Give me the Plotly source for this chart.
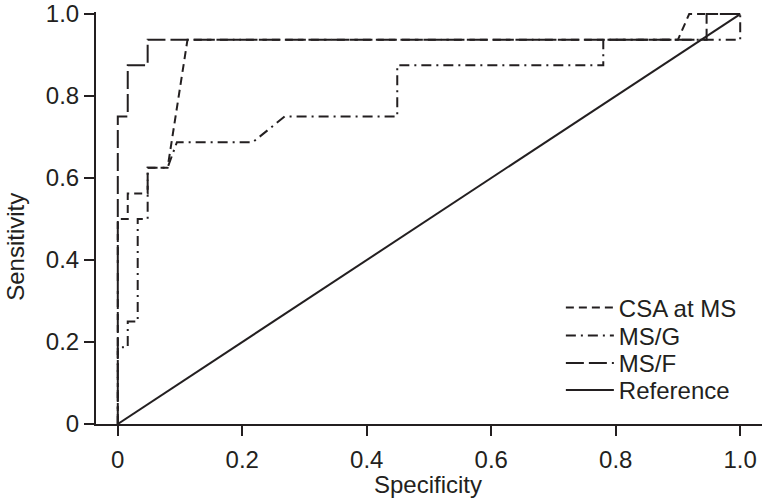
import plotly.graph_objects as go

# ROC curve data (x = "Specificity" axis as labelled, y = Sensitivity)
csa_x = [0, 0, 0.016, 0.016, 0.048, 0.048, 0.080, 0.112, 0.900, 0.918, 1.0]
csa_y = [0, 0.5, 0.5, 0.5625, 0.5625, 0.625, 0.625, 0.9375, 0.9375, 1.0, 1.0]

msg_x = [0, 0, 0.016, 0.016, 0.032, 0.032, 0.048, 0.048, 0.080, 0.095,
         0.217, 0.268, 0.449, 0.449, 0.780, 0.780, 1.0, 1.0]
msg_y = [0, 0.1875, 0.1875, 0.25, 0.25, 0.5, 0.5, 0.625, 0.625, 0.6875,
         0.6875, 0.75, 0.75, 0.875, 0.875, 0.9375, 0.9375, 1.0]

msf_x = [0, 0, 0.016, 0.016, 0.048, 0.048, 0.946, 0.946, 1.0]
msf_y = [0, 0.75, 0.75, 0.875, 0.875, 0.9375, 0.9375, 1.0, 1.0]

ref_x = [0, 1.0]
ref_y = [0, 1.0]

series_names = ["CSA at MS", "MS/G", "MS/F", "Reference"]
tick_vals = [0, 0.2, 0.4, 0.6, 0.8, 1.0]
tick_text = ["0", "0.2", "0.4", "0.6", "0.8", "1.0"]

INK = "#231f20"
FONT = "Liberation Sans, Arial, sans-serif"

fig = go.Figure()
fig.add_trace(go.Scatter(x=csa_x, y=csa_y, mode="lines", name=series_names[0],
                         legend="legend",
                         line=dict(color=INK, width=2, dash="8px,5px")))
fig.add_trace(go.Scatter(x=msg_x, y=msg_y, mode="lines", name=series_names[1],
                         legend="legend2",
                         line=dict(color=INK, width=2, dash="10px,5px,2px,5px")))
fig.add_trace(go.Scatter(x=msf_x, y=msf_y, mode="lines", name=series_names[2],
                         legend="legend3",
                         line=dict(color=INK, width=2, dash="18px,5px")))
fig.add_trace(go.Scatter(x=ref_x, y=ref_y, mode="lines", name=series_names[3],
                         legend="legend4",
                         line=dict(color=INK, width=2)))

leg_common = dict(x=0.698, xanchor="left", yanchor="middle", itemwidth=48,
                  bgcolor="rgba(0,0,0,0)", font=dict(size=24, color=INK))

fig.update_layout(
    width=765, height=499,
    margin=dict(l=96, r=3, t=12, b=75, autoexpand=False),
    paper_bgcolor="white", plot_bgcolor="white",
    font=dict(family=FONT, size=24, color=INK),
    showlegend=True,
    legend=dict(y=0.2816, **leg_common),
    legend2=dict(y=0.2136, **leg_common),
    legend3=dict(y=0.1468, **leg_common),
    legend4=dict(y=0.0813, **leg_common),
    annotations=[
        dict(text="Specificity", x=0.4985, y=-0.146, xref="paper", yref="paper",
             xanchor="center", yanchor="middle", showarrow=False,
             font=dict(size=24, color=INK)),
        dict(text="Sensitivity", x=-0.122, y=0.4296, xref="paper", yref="paper",
             xanchor="center", yanchor="middle", showarrow=False, textangle=-90,
             font=dict(size=24, color=INK)),
    ],
)
fig.update_xaxes(range=[-0.035, 1.035], showgrid=False, zeroline=False,
                 automargin=False, ticklabeloverflow="allow",
                 showline=True, linecolor=INK, linewidth=2,
                 ticks="outside", ticklen=10, tickwidth=2, tickcolor=INK,
                 ticklabelstandoff=3,
                 tickvals=tick_vals, ticktext=tick_text)
fig.update_yaxes(range=[0, 1.005], showgrid=False, zeroline=False,
                 automargin=False, ticklabeloverflow="allow",
                 showline=True, linecolor=INK, linewidth=2,
                 ticks="outside", ticklen=10, tickwidth=2, tickcolor=INK,
                 tickvals=tick_vals, ticktext=tick_text)

fig.write_html("out.html",
               config={"displayModeBar": False},
               post_script="document.body.style.margin='0';"
                           "document.body.style.overflow='hidden';")
